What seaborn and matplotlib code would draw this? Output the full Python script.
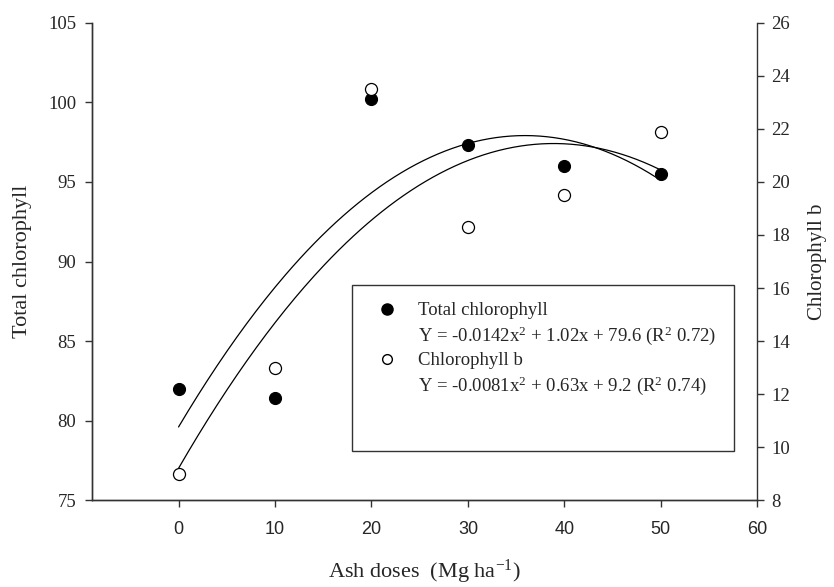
import matplotlib
matplotlib.use('Agg')
import matplotlib.pyplot as plt
import numpy as np
import seaborn as sns
from matplotlib.lines import Line2D
from matplotlib.patches import Rectangle

# Data
doses = [0, 10, 20, 30, 40, 50]
total_chl = [82.0, 81.4, 100.2, 97.3, 96.0, 95.5]
chl_b = [9.0, 13.0, 23.5, 18.3, 19.5, 21.9]

# Fitted quadratic coefficients (as printed in the legend)
total_coef = [-0.0142, 1.02, 79.6]
chl_b_coef = [-0.0081, 0.63, 9.2]

total_label = 'Total chlorophyll'
total_eq = r'Y = -0.0142x$^{\mathrm{2}}$ + 1.02x + 79.6 (R$^{\mathrm{2}}$ 0.72)'
chl_b_label = 'Chlorophyll b'
chl_b_eq = r'Y = -0.0081x$^{\mathrm{2}}$ + 0.63x + 9.2 (R$^{\mathrm{2}}$ 0.74)'

sns.set_style('ticks')
plt.rcParams['font.family'] = ['Liberation Serif', 'DejaVu Serif']
plt.rcParams['mathtext.fontset'] = 'custom'
plt.rcParams['mathtext.rm'] = 'Liberation Serif'
plt.rcParams['mathtext.it'] = 'Liberation Serif:italic'

spine_col = '#333333'

fig = plt.figure(figsize=(8.34, 5.87), dpi=100)
ax = fig.add_axes([0.110, 0.148, 0.798, 0.813])
ax2 = ax.twinx()

# fitted curves
x_fit = np.linspace(min(doses), max(doses), 200)
sns.lineplot(x=x_fit, y=np.polyval(total_coef, x_fit), ax=ax, color='black', lw=0.9)
sns.lineplot(x=x_fit, y=np.polyval(chl_b_coef, x_fit), ax=ax2, color='black', lw=0.9)

# points
sns.scatterplot(x=doses, y=total_chl, ax=ax, color='black', edgecolor='black',
                s=75, linewidth=0.8, zorder=5)
sns.scatterplot(x=doses, y=chl_b, ax=ax2, color='white', edgecolor='black',
                s=75, linewidth=0.9, zorder=5)

ax.set_xlim(-9, 60)
ax.set_ylim(75, 105)
ax2.set_ylim(8, 26)
ax.set_xticks(range(0, 61, 10))
ax.set_yticks(range(75, 106, 5))
ax2.set_yticks(range(8, 27, 2))

for a in (ax, ax2):
    for s in a.spines.values():
        s.set_color(spine_col)
        s.set_linewidth(1.0)
    a.spines['top'].set_visible(False)
    a.tick_params(length=5, width=1.0, color=spine_col, labelsize=13.5, pad=6)
ax2.spines['right'].set_visible(True)
ax.spines['right'].set_visible(False)
ax2.tick_params(axis='y', pad=5)

for lab in ax.get_xticklabels():
    lab.set_fontfamily('Liberation Sans')
    lab.set_fontsize(13)
ax.tick_params(axis='x', pad=10)

ax.set_ylabel('Total chlorophyll', fontsize=16, labelpad=12)
ax2.set_ylabel('Chlorophyll b', fontsize=15, labelpad=13)
ax.set_xlabel(r'Ash doses  (Mg ha$^{\mathrm{-1}}$)', fontsize=16, labelpad=14)

# legend box
ax.add_patch(Rectangle((0.391, 0.103), 0.574, 0.348, transform=ax.transAxes,
                       fill=False, edgecolor=spine_col, lw=1.0, zorder=6))
blank = Line2D([], [], linestyle='none', marker='none')
handles = [
    Line2D([], [], linestyle='none', marker='o', markersize=8,
           markerfacecolor='black', markeredgecolor='black'),
    blank,
    Line2D([], [], linestyle='none', marker='o', markersize=7,
           markerfacecolor='white', markeredgecolor='black'),
    blank,
]
labels = [total_label, total_eq, chl_b_label, chl_b_eq]
ax2.legend(handles, labels, loc='upper left', bbox_to_anchor=(0.430, 0.415),
           frameon=False, fontsize=13.5, handlelength=1.0, handletextpad=1.13,
           labelspacing=0.28, borderpad=0, borderaxespad=0)

fig.savefig('out.png', dpi=100)
